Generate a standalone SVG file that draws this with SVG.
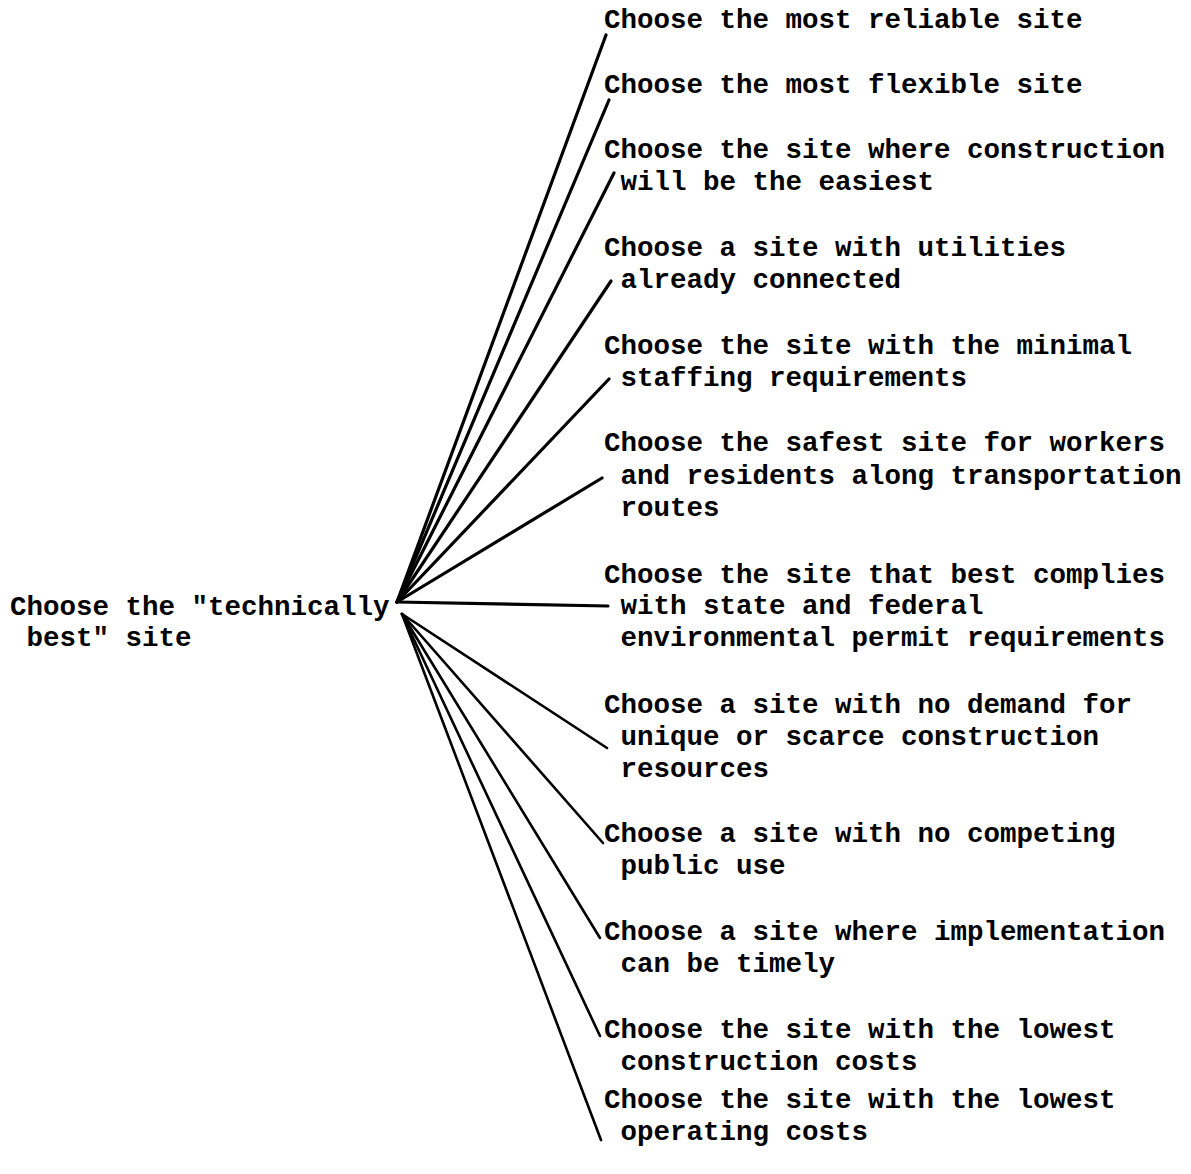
<svg xmlns="http://www.w3.org/2000/svg" width="1191" height="1174" viewBox="0 0 1191 1174">
<style>
text{font-family:"Liberation Mono","Courier New",monospace;font-weight:bold;font-size:27.5px;fill:#000;white-space:pre}
.c line{stroke:#000;stroke-linecap:round;fill:none}
.u{stroke-width:3.2}
.l{stroke-width:2.6}
</style>
<rect width="1191" height="1174" fill="#fff"/>
<g class="c" id="connectors">
<line class="u" x1="397" y1="602" x2="606" y2="35"/>
<line class="u" x1="397" y1="602" x2="609" y2="100"/>
<line class="u" x1="397" y1="602" x2="614" y2="173"/>
<line class="u" x1="397" y1="602" x2="611" y2="281"/>
<line class="u" x1="397" y1="602" x2="609" y2="379"/>
<line class="u" x1="397" y1="602" x2="602" y2="478"/>
<line class="u" x1="397" y1="602" x2="608" y2="606"/>
<line class="l" x1="402" y1="614" x2="607" y2="748"/>
<line class="l" x1="402" y1="614" x2="603" y2="843"/>
<line class="l" x1="402" y1="614" x2="600" y2="938"/>
<line class="l" x1="402" y1="614" x2="600" y2="1036"/>
<line class="l" x1="402" y1="614" x2="601" y2="1140"/>
</g>
<g id="root"><text x="10" y="615">Choose the "technically</text><text x="10" y="646"> best" site</text></g>
<g id="n1"><text x="604" y="28">Choose the most reliable site</text></g>
<g id="n2"><text x="604" y="93">Choose the most flexible site</text></g>
<g id="n3"><text x="604" y="158">Choose the site where construction</text><text x="604" y="190"> will be the easiest</text></g>
<g id="n4"><text x="604" y="256">Choose a site with utilities</text><text x="604" y="288"> already connected</text></g>
<g id="n5"><text x="604" y="354">Choose the site with the minimal</text><text x="604" y="386"> staffing requirements</text></g>
<g id="n6"><text x="604" y="451">Choose the safest site for workers</text><text x="604" y="484"> and residents along transportation</text><text x="604" y="516"> routes</text></g>
<g id="n7"><text x="604" y="583">Choose the site that best complies</text><text x="604" y="614"> with state and federal</text><text x="604" y="646"> environmental permit requirements</text></g>
<g id="n8"><text x="604" y="713">Choose a site with no demand for</text><text x="604" y="745"> unique or scarce construction</text><text x="604" y="777"> resources</text></g>
<g id="n9"><text x="604" y="842">Choose a site with no competing</text><text x="604" y="874"> public use</text></g>
<g id="n10"><text x="604" y="940">Choose a site where implementation</text><text x="604" y="972"> can be timely</text></g>
<g id="n11"><text x="604" y="1038">Choose the site with the lowest</text><text x="604" y="1070"> construction costs</text></g>
<g id="n12"><text x="604" y="1108">Choose the site with the lowest</text><text x="604" y="1140"> operating costs</text></g>
</svg>
